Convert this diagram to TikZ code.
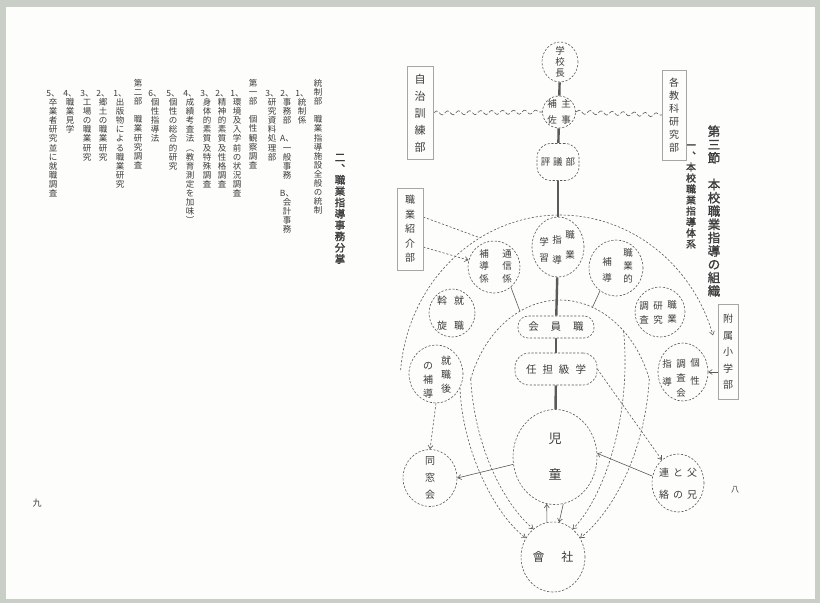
\documentclass[tikz,border=0pt]{standalone}
\usepackage{fontspec}
\newfontfamily\cjk{Noto Sans CJK JP}
\newfontfamily\cjkb{Noto Sans CJK JP}[FakeBold=1.5]
\usetikzlibrary{shapes.geometric,decorations.pathmorphing,arrows.meta}
\definecolor{ink}{HTML}{3C3C3C}
\definecolor{linec}{HTML}{5A5A5A}
\definecolor{paper}{HTML}{FDFDFB}
\definecolor{edgec}{HTML}{C9CEC6}
\pgfdeclarelayer{paperl}
\pgfdeclarelayer{bg}
\pgfsetlayers{paperl,bg,main}
\makeatletter
\newcommand\tate[2][0pt]{\vbox{\offinterlineskip\@tfor\tate@c:=#2\do{\hbox to 1em{\hss\vrule width0pt height.88em depth.12em\tate@c\hss}\kern#1}\unkern}}
\makeatother
\def\tsp{}
\tikzset{
  tx/.style={inner sep=0pt, outer sep=0pt, text=ink, font=\cjk\fontsize{#1}{#1}\selectfont},
  tx/.default=10,
  txb/.style={inner sep=0pt, outer sep=0pt, text=ink, font=\cjkb\fontsize{#1}{#1}\selectfont},
  txb/.default=10,
  circ/.style={ellipse, draw=linec, fill=paper, line width=0.6pt, dash pattern=on 2.2pt off 1.6pt, inner sep=0pt},
  rnd/.style={rectangle, draw=linec, fill=paper, line width=0.6pt, dash pattern=on 2.2pt off 1.6pt, inner sep=0pt},
  boxs/.style={rectangle, draw=gray!70, fill=paper, line width=0.5pt, inner sep=0pt},
  trunk/.style={line width=2.4pt, draw=linec},
  dsh/.style={dash pattern=on 2.2pt off 1.8pt},
  ar/.style={-{Straight Barb[length=3.5pt,width=5pt]}},
  wavy/.style={draw=linec, line width=0.6pt, dash pattern=on 5pt off 2pt, decorate, decoration={snake, amplitude=2pt, segment length=11pt}}
}
\begin{document}
\begin{tikzpicture}[x=1pt,y=-1pt]
\begin{pgfonlayer}{paperl}
\fill[edgec] (0,0) rectangle (820,603);
\fill[paper] (6,7) rectangle (815,599);
\end{pgfonlayer}
\useasboundingbox (0,0) rectangle (820,603);

% ---------- left page ----------
\node[txb=10.5, anchor=north] (h2) at (340,152) {\tate[0.8pt]{二︑職業指導事務分掌}};
\node[tx=8.5, anchor=north] (c01) at (318,79) {\tate[0.6pt]{統制部{\tsp}職業指導施設全般の統制}};
\node[tx=8.5, anchor=north] (c02) at (302,89) {\tate[0.6pt]{{1、}統制係}};
\node[tx=8.5, anchor=north] (c03) at (287,89) {\tate[0.6pt]{{2、}事務部{\tsp}{A、}一般事務{\tsp}{B、}会計事務}};
\node[tx=8.5, anchor=north] (c04) at (272,89) {\tate[0.6pt]{{3、}研究資料処理部}};
\node[tx=8.5, anchor=north] (c05) at (253,79) {\tate[0.6pt]{第一部{\tsp}個性観察調査}};
\node[tx=8.5, anchor=north] (c06) at (237,89) {\tate[0.6pt]{{1、}環境及入学前の状況調査}};
\node[tx=8.5, anchor=north] (c07) at (222,89) {\tate[0.6pt]{{2、}精神的素質及性格調査}};
\node[tx=8.5, anchor=north] (c08) at (207,89) {\tate[0.6pt]{{3、}身体的素質及特殊調査}};
\node[tx=8.5, anchor=north] (c09) at (190,89) {\tate[0.6pt]{{4、}成績考査法︵教育測定を加味︶}};
\node[tx=8.5, anchor=north] (c10) at (173,89) {\tate[0.6pt]{{5、}個性の総合的研究}};
\node[tx=8.5, anchor=north] (c11) at (155,89) {\tate[0.6pt]{{6、}個性指導法}};
\node[tx=8.5, anchor=north] (c12) at (138,79) {\tate[0.6pt]{第二部{\tsp}職業研究調査}};
\node[tx=8.5, anchor=north] (c13) at (120,89) {\tate[0.6pt]{{1、}出版物による職業研究}};
\node[tx=8.5, anchor=north] (c14) at (103,89) {\tate[0.6pt]{{2、}郷土の職業研究}};
\node[tx=8.5, anchor=north] (c15) at (87,89) {\tate[0.6pt]{{3、}工場の職業研究}};
\node[tx=8.5, anchor=north] (c16) at (70,89) {\tate[0.6pt]{{4、}職業見学}};
\node[tx=8.5, anchor=north] (c17) at (53,89) {\tate[0.6pt]{{5、}卒業者研究並に就職調査}};
\node[tx=9] (p9) at (37,503) {九};

% ---------- right page titles ----------
\node[txb=12.5, anchor=north] (title) at (714,125) {\tate[0.8pt]{第三節{\tsp}本校職業指導の組織}};
\node[txb=10, anchor=north] (sub) at (691,140) {\tate[1pt]{一︑本校職業指導体系}};
\node[tx=8] (p8) at (735,490) {八};

% ---------- diagram nodes ----------
\node[circ, minimum width=36pt, minimum height=40pt] (kocho) at (560,62) {};
\node[tx=9.5] (kochoT) at (kocho.center) {\tate[1.5pt]{学校長}};
\node[circ, minimum width=33pt, minimum height=32pt] (shuji) at (559,112) {};
\node[tx=9.5] (shujiR) at (566,112) {\tate[6.5pt]{主事}};
\node[tx=9.5] (shujiL) at (552,112) {\tate[6.5pt]{補佐}};
\node[rnd, minimum width=42pt, minimum height=37pt, rounded corners=14pt] (hyogi) at (558,162) {};
\node[tx=9.5] (hyogiT) at (hyogi.center) {評\hspace{3pt}議\hspace{3pt}部};

\node[boxs, minimum width=26pt, minimum height=93pt] (jichi) at (420,113) {};
\node[tx=11] (jichiT) at (jichi.center) {\tate[6pt]{自治訓練部}};
\node[boxs, minimum width=24pt, minimum height=90pt] (kakuka) at (674,115) {};
\node[tx=10] (kakukaT) at (kakuka.center) {\tate[3pt]{各教科研究部}};
\node[boxs, minimum width=26pt, minimum height=82pt] (shokai) at (410,229) {};
\node[tx=10] (shokaiT) at (shokai.center) {\tate[4.5pt]{職業紹介部}};
\node[boxs, minimum width=20pt, minimum height=95pt] (fuzoku) at (728,352) {};
\node[tx=10] (fuzokuT) at (fuzoku.center) {\tate[6.5pt]{附属小学部}};

\node[circ, minimum width=52pt, minimum height=60pt] (shido) at (558,247) {};
\node[tx=9.5] (shidoR) at (570,245) {\tate[10pt]{職業}};
\node[tx=9.5] (shidoM) at (557,250) {\tate[10pt]{指導}};
\node[tx=9.5] (shidoL) at (544,250) {\tate[6pt]{学習}};

\node[circ, minimum width=52pt, minimum height=52pt] (hodo) at (494,267) {};
\node[tx=9.5] (hodoR) at (507,266) {\tate[3pt]{通信係}};
\node[tx=9.5] (hodoL) at (484,266) {\tate[3pt]{補導係}};

\node[circ, minimum width=46pt, minimum height=48pt] (assen) at (452,313) {};
\node[tx=10] (assenR) at (459,313) {\tate[15pt]{就職}};
\node[tx=10] (assenL) at (442,313) {\tate[15pt]{斡旋}};

\node[circ, minimum width=54pt, minimum height=58pt] (shushokugo) at (436,374) {};
\node[tx=10] (shushokugoR) at (446,375) {\tate[4pt]{就職後}};
\node[tx=10] (shushokugoL) at (428,380) {\tate[4pt]{の補導}};

\node[circ, minimum width=54pt, minimum height=56pt] (shokuteki) at (616,268) {};
\node[tx=9.5] (shokutekiR) at (628,266) {\tate[3.5pt]{職業的}};
\node[tx=9.5] (shokutekiL) at (607,270) {\tate[7pt]{補導}};

\node[circ, minimum width=50pt, minimum height=50pt] (kenkyu) at (660,312) {};
\node[tx=9.5] (kenkyuR) at (672,312) {\tate[5pt]{職業}};
\node[tx=9.5] (kenkyuM) at (658,313) {\tate[5pt]{研究}};
\node[tx=9.5] (kenkyuL) at (644,313) {\tate[5pt]{調査}};

\node[circ, minimum width=50pt, minimum height=58pt] (kosei) at (683,372) {};
\node[tx=9.5] (koseiR) at (695,372) {\tate[8pt]{個性}};
\node[tx=9.5] (koseiM) at (681,378) {\tate[5pt]{調査会}};
\node[tx=9.5] (koseiL) at (667,373) {\tate[8pt]{指導}};

\node[rnd, minimum width=76pt, minimum height=22pt, rounded corners=10pt] (shokuin) at (556,327) {};
\node[tx=10.5] (shokuinT) at (shokuin.center) {会\hspace{12pt}員\hspace{12pt}職};
\node[rnd, minimum width=82pt, minimum height=32pt, rounded corners=14pt] (gakkyu) at (556,369) {};
\node[tx=10.5] (gakkyuT) at (gakkyu.center) {任\hspace{6pt}担\hspace{6pt}級\hspace{6pt}学};

\node[circ, minimum width=84pt, minimum height=95pt] (jido) at (555,457) {};
\node[tx=13] (jidoT) at (jido.center) {\tate[23pt]{児童}};
\node[circ, minimum width=64pt, minimum height=70pt] (shakai) at (553,557) {};
\node[tx=12] (shakaiT) at (shakai.center) {會\hspace{17pt}社};
\node[circ, minimum width=54pt, minimum height=57pt] (dosokai) at (430,478) {};
\node[tx=10] (dosokaiT) at (dosokai.center) {\tate[7pt]{同窓会}};
\node[circ, minimum width=52pt, minimum height=58pt] (fukei) at (678,483) {};
\node[tx=10] (fukeiR) at (692,484) {\tate[12pt]{父兄}};
\node[tx=10] (fukeiM) at (678,484) {\tate[12pt]{との}};
\node[tx=10] (fukeiL) at (664,484) {\tate[12pt]{連絡}};

% ---------- coordinates on arcs ----------
\coordinate (oL) at (400.6,370.2);
\coordinate (oA) at (480,237.8);
\coordinate (inL) at (470.7,379);
\coordinate (inR) at (649.3,379);
\coordinate (inA) at (519.9,311.2);
\coordinate (inB) at (592.5,307.2);
\coordinate (inC) at (623.6,330.8);

% ---------- connectors ----------
\begin{pgfonlayer}{bg}
\begin{scope}[draw=linec, line width=0.6pt]
\draw[trunk] (kocho) -- (shuji);
\draw[trunk] (shuji) -- (hyogi);
\draw[trunk] (hyogi) -- (shido);
\draw[trunk] (shido) -- (shokuin);
\draw[trunk] (shokuin) -- (gakkyu);
\draw[trunk] (gakkyu) -- (jido);
\draw[wavy] (jichi.east) -- (shuji.west);
\draw[wavy] (shuji.east) -- (kakuka.west);
\draw[dsh, ar] (oL) arc[start angle=185, end angle=343, x radius=160, y radius=170];
\draw[dsh] (inL) arc[start angle=200, end angle=340, x radius=95, y radius=120];
\draw[dsh, ar] ([yshift=-18pt]shokai.east) -- (hodo.165);
\draw[dsh] ([yshift=12pt]shokai.east) -- (oA);
\draw (hodo.-50) -- (inA);
\draw (shokuteki.-125) -- (inB);
\draw[dsh, ar] (shushokugo.south) -- (dosokai.north);
\draw[ar] (jido.190) -- (dosokai.east);
\draw[ar] (fukei.165) -- (jido.5);
\draw[dsh, ar] (gakkyu.east) -- (fukei.125);
\draw[ar] (shakai.100) -- (jido.-100);
\draw[ar] (jido.-80) -- (shakai.80);
\draw[ar] ([yshift=-20pt]fuzoku.west) -- (kosei.east);
\draw[dsh, ar] (inL) .. controls (475,450) and (505,505) .. (shakai.125);
\draw[dsh, ar] (shushokugo.-30) .. controls (462,450) and (495,515) .. (shakai.145);
\draw[dsh, ar] (inR) .. controls (645,450) and (615,510) .. (shakai.35);
\draw[dsh, ar] (inC) .. controls (632,420) and (602,500) .. (shakai.55);
\end{scope}
\end{pgfonlayer}
\end{tikzpicture}
\end{document}
